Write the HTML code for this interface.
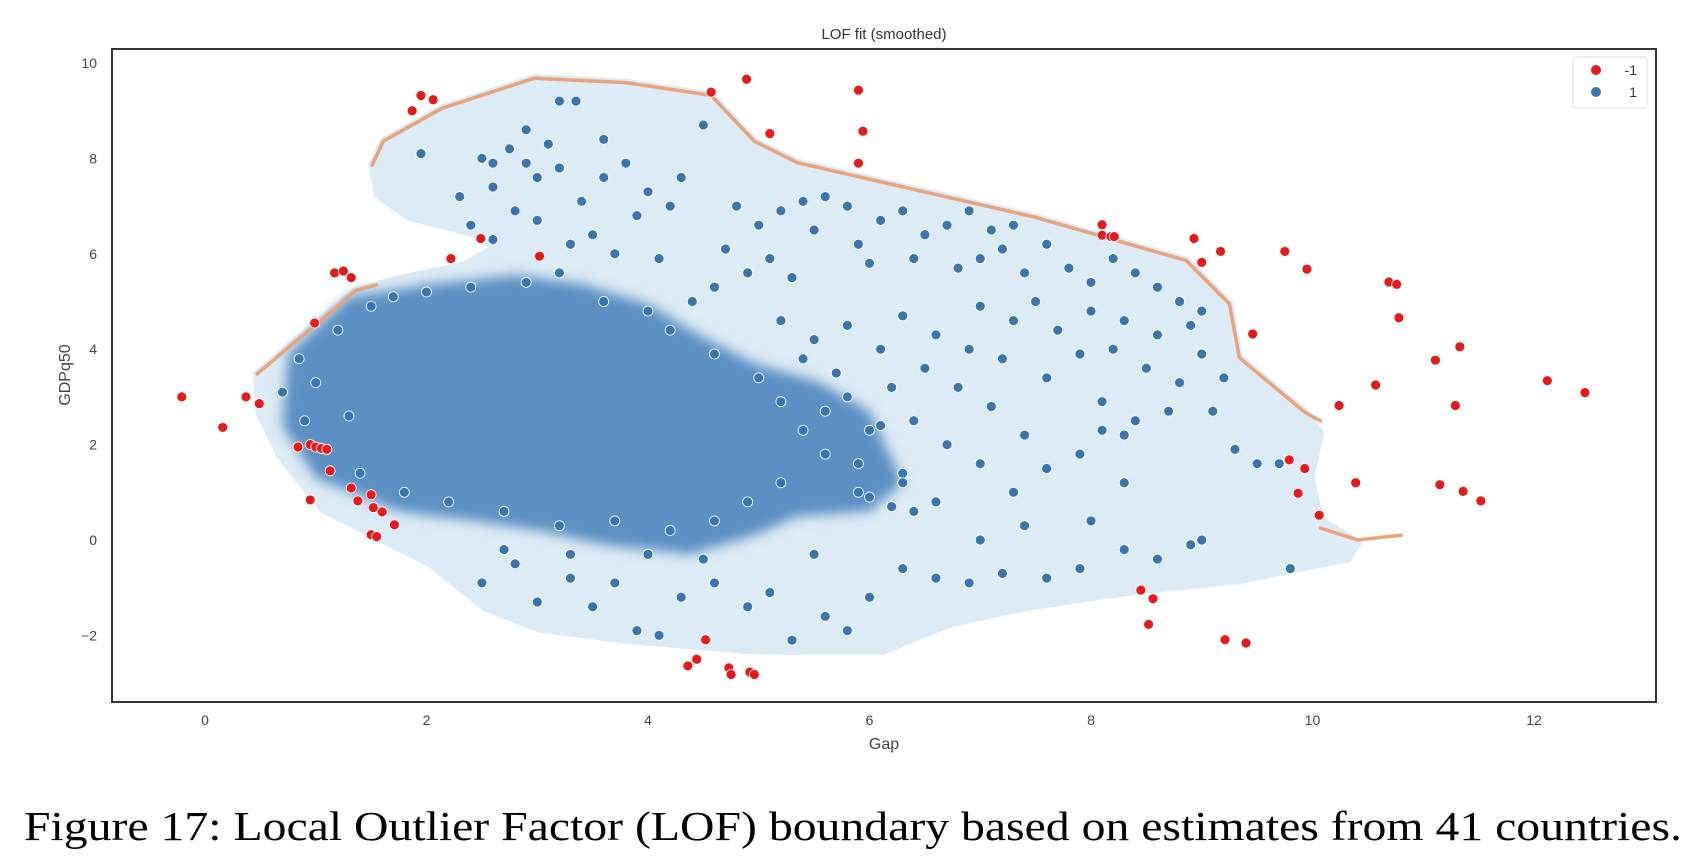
<!DOCTYPE html>
<html><head><meta charset="utf-8"><style>
html,body{margin:0;padding:0;background:#fff}
svg{display:block}
</style></head><body>
<svg id="fig" width="1690" height="856" viewBox="0 0 1690 856" xmlns="http://www.w3.org/2000/svg" font-family="'Liberation Sans', sans-serif">
<defs><filter id="soft" x="-10%" y="-10%" width="120%" height="120%"><feGaussianBlur stdDeviation="6"/></filter></defs>
<rect x="0" y="0" width="1690" height="856" fill="#fff"/>
<g id="region"></g>
<g id="core"></g>
<g id="boundary"></g>
<g id="blue"></g>
<g id="red"></g>
<rect x="112" y="49" width="1544" height="653" fill="none" stroke="#333" stroke-width="2"/>
<g id="xticks" font-size="14" fill="#444" text-anchor="middle"></g>
<g id="yticks" font-size="14" fill="#444" text-anchor="end"></g>
<text x="884" y="39" font-size="15" fill="#333" text-anchor="middle">LOF fit (smoothed)</text>
<text x="884" y="749" font-size="16" fill="#444" text-anchor="middle">Gap</text>
<text x="0" y="0" font-size="16" fill="#444" text-anchor="middle" transform="translate(70,375) rotate(-90)">GDPq50</text>
<g>
<rect x="1573" y="57" width="74" height="51" fill="#fff" stroke="#ddd" rx="3"/>
<circle cx="1596" cy="70" r="5" fill="#e41a1c"/>
<text x="1637" y="75" font-size="14" fill="#333" text-anchor="end">-1</text>
<circle cx="1596" cy="92" r="5" fill="#3b75af"/>
<text x="1637" y="97" font-size="14" fill="#333" text-anchor="end">1</text>
</g>
<text x="24" y="840" font-family="'Liberation Serif', serif" font-size="41" fill="#000" textLength="1658" lengthAdjust="spacingAndGlyphs">Figure 17: Local Outlier Factor (LOF) boundary based on estimates from 41 countries.</text>
</svg>
<script>
const xTicks=[0,2,4,6,8,10,12];
const yTicks=[-2,0,2,4,6,8,10];
const outlierX=[-0.21,0.16,0.37,0.49,0.84,0.95,1.0,1.05,1.1,0.95,0.99,1.13,1.17,1.25,1.32,1.32,1.38,1.5,1.52,1.6,1.5,1.55,1.71,1.87,1.95,2.06,2.22,2.49,3.02,4.57,4.89,5.1,5.9,5.94,5.9,8.1,8.1,8.18,8.21,8.93,9.0,9.17,9.46,9.75,9.95,10.24,10.69,10.76,10.78,11.11,11.33,11.29,10.57,12.12,12.46,11.15,11.36,11.52,9.79,9.93,9.87,10.39,10.06,8.45,8.56,8.52,9.21,9.4,4.52,4.44,4.36,4.73,4.75,4.92,4.96];
const outlierY=[3.0,2.36,3.0,2.86,1.95,2.0,1.95,1.92,1.9,0.84,4.55,1.45,5.6,5.64,5.5,1.09,0.82,0.95,0.68,0.59,0.11,0.07,0.32,9.0,9.32,9.23,5.9,6.32,5.95,9.39,9.66,8.52,7.9,8.57,9.43,6.61,6.39,6.36,6.36,6.32,5.82,6.05,4.32,6.05,5.68,2.82,5.41,5.36,4.66,3.77,4.05,2.82,3.25,3.34,3.09,1.16,1.02,0.82,1.68,1.5,0.98,1.2,0.52,-1.05,-1.23,-1.77,-2.09,-2.16,-2.09,-2.5,-2.64,-2.68,-2.82,-2.77,-2.82];
const inlierX=[1.95,3.2,3.35,2.9,3.1,2.5,2.6,2.75,2.9,3.0,3.2,2.3,2.6,2.8,3.0,2.4,3.4,3.6,3.6,3.8,4.0,3.9,4.2,4.3,4.5,3.5,3.7,4.1,2.6,3.3,
4.8,5.0,5.2,5.4,5.6,5.8,5.5,5.9,6.1,6.3,6.5,6.7,6.9,7.1,7.3,6.0,6.4,6.8,7.0,7.2,7.4,4.7,5.1,5.3,4.6,4.9,
7.6,7.8,8.0,8.2,8.4,8.6,8.8,8.0,8.3,8.6,8.9,9.0,8.2,8.5,8.8,7.7,7.9,7.5,7.3,7.0,7.2,7.6,8.1,8.4,8.7,8.1,8.3,9.2,9.1,9.0,
5.2,5.5,5.8,6.1,6.3,6.6,6.9,6.5,6.2,6.8,7.1,6.4,6.0,6.7,7.0,6.3,5.9,6.6,7.3,7.6,7.4,7.9,8.3,5.8,5.6,5.7,5.4,
2.5,2.8,3.0,3.3,3.5,3.7,3.9,4.1,4.3,4.6,4.9,5.1,5.3,5.6,5.8,6.0,6.3,6.6,6.9,7.2,7.6,7.9,8.3,8.6,8.9,9.0,9.8,7.0,7.4,8.0,4.0,4.5,5.5,3.3,2.7,9.3,9.5,9.7,
0.7,0.85,1.0,1.2,1.3,1.5,1.7,2.0,2.4,2.9,3.2,3.6,4.0,4.4,4.2,4.6,5.0,5.2,5.4,5.6,5.2,4.9,4.6,4.2,3.7,3.2,2.7,2.2,1.8,1.4,1.1,0.9,
6.1,6.3,6.0,6.2,5.9,6.4];
const inlierY=[8.1,9.2,9.2,8.6,8.3,8.0,7.9,8.2,7.9,7.6,7.8,7.2,7.4,6.9,6.7,6.6,7.1,7.6,8.4,7.9,7.3,6.8,7.0,7.6,8.7,6.4,6.0,5.9,6.3,6.2,
7.0,6.6,6.9,7.1,7.2,7.0,6.5,6.2,6.7,6.9,6.4,6.6,6.9,6.5,6.6,5.8,5.9,5.7,5.9,6.1,5.6,6.1,5.9,5.5,5.3,5.6,
6.2,5.7,5.4,5.9,5.6,5.3,5.0,4.8,4.6,4.3,4.5,3.9,4.0,3.6,3.3,4.4,3.9,5.0,4.6,4.9,3.8,3.4,2.9,2.5,2.7,2.3,2.2,3.4,2.7,4.8,
4.6,4.2,4.5,4.0,4.7,4.3,4.0,3.6,3.2,3.2,2.8,2.5,2.3,2.0,1.6,1.4,1.0,0.8,1.0,1.5,2.2,1.8,1.2,3.0,2.7,3.5,3.8,
-0.9,-0.5,-1.3,-0.8,-1.4,-0.9,-1.9,-2.0,-1.2,-0.9,-1.4,-1.1,-2.1,-1.6,-1.9,-1.2,-0.6,-0.8,-0.9,-0.7,-0.8,-0.6,-0.2,-0.4,-0.1,0.0,-0.6,0.0,0.3,0.4,-0.3,-0.4,-0.3,-0.3,-0.2,1.9,1.6,1.6,
3.1,3.8,3.3,4.4,2.6,4.9,5.1,5.2,5.3,5.4,5.6,5.0,4.8,5.0,4.4,3.9,3.4,2.9,2.3,1.8,1.2,0.8,0.4,0.2,0.4,0.3,0.6,0.8,1.0,1.4,1.9,2.5,
2.4,1.2,0.9,0.7,1.6,0.6];
const regionX=[1.51,1.61,2.14,2.97,3.8,4.57,4.96,5.35,6.42,7.49,8.86,9.25,9.34,9.93,10.07,9.98,10.07,10.41,10.32,9.83,9.34,8.37,7.4,6.72,6.13,4.96,3.8,3.02,2.53,2.04,1.56,1.07,0.68,0.49,0.47,0.78,1.17,1.36,1.85,2.34,2.63,2.43,1.85,1.56];
const regionY=[7.86,8.36,9.05,9.68,9.59,9.32,8.36,7.91,7.34,6.77,5.86,4.95,3.82,2.68,2.23,1.32,0.41,-0.05,-0.39,-0.61,-0.84,-1.07,-1.41,-1.75,-2.32,-2.32,-2.09,-1.86,-1.41,-0.5,0.07,0.64,1.77,2.68,3.48,4.09,4.84,5.23,5.52,5.75,6.14,6.43,6.77,7.23];
const coreX=[0.75,1.3,2.04,2.82,3.41,3.99,4.48,4.96,5.55,6.0,6.3,6.0,5.35,4.96,4.38,3.6,3.02,2.43,1.75,1.0,0.7];
const coreY=[3.9,5.1,5.36,5.55,5.36,4.95,4.27,3.7,3.3,2.7,1.2,0.6,0.5,0.1,-0.3,-0.1,0.2,0.4,0.6,1.3,2.4];
const boundLeftX=[0.47,0.78,1.17,1.36,1.55];
const boundLeftY=[3.48,4.09,4.84,5.23,5.35];
const boundTopX=[1.51,1.61,2.14,2.97,3.8,4.57,4.96,5.35,6.42,7.49,8.86,9.25,9.34,9.93,10.07];
const boundTopY=[7.86,8.36,9.05,9.68,9.59,9.32,8.36,7.91,7.34,6.77,5.86,4.95,3.82,2.68,2.5];
const boundBotX=[10.07,10.41,10.8];
const boundBotY=[0.25,0.0,0.1];

const NS='http://www.w3.org/2000/svg';
const sx=v=>205+110.75*v;
const sy=v=>540-47.7*v;
function mk(tag,parent){const e=document.createElementNS(NS,tag);parent.appendChild(e);return e;}
function pts(xs,ys){return xs.map((x,i)=>sx(x).toFixed(1)+','+sy(ys[i]).toFixed(1)).join(' ');}

const reg=mk('polygon',document.getElementById('region'));


reg.setAttribute('points',pts(regionX,regionY));
reg.setAttribute('fill','#dcebf5');
reg.setAttribute('stroke','#dcebf5');
reg.setAttribute('stroke-width','8');
reg.setAttribute('stroke-linejoin','round');

const core=mk('polygon',document.getElementById('core'));


core.setAttribute('points',pts(coreX,coreY));
core.setAttribute('fill','#5b8fc3');
core.setAttribute('filter','url(#soft)');

[[boundLeftX,boundLeftY,'boundary-left'],[boundTopX,boundTopY,'boundary-top'],[boundBotX,boundBotY,'boundary-bottom']].forEach(b=>{
  const l=mk('polyline',document.getElementById('boundary'));
  
  
  l.setAttribute('points',pts(b[0],b[1]));
  l.setAttribute('fill','none');
  l.setAttribute('stroke','#e8a27c');
  l.setAttribute('stroke-width','3.5');
  l.setAttribute('stroke-linecap','round');
  l.setAttribute('stroke-linejoin','round');
});

const bg=document.getElementById('blue');
inlierX.forEach((x,i)=>{
  const c=mk('circle',bg);
  
  
  c.setAttribute('cx',sx(x));c.setAttribute('cy',sy(inlierY[i]));c.setAttribute('r','5');
  c.setAttribute('fill','#3b75af');c.setAttribute('stroke','#fff');c.setAttribute('stroke-width','0.8');
});
const rg=document.getElementById('red');
outlierX.forEach((x,i)=>{
  const c=mk('circle',rg);
  
  
  c.setAttribute('cx',sx(x));c.setAttribute('cy',sy(outlierY[i]));c.setAttribute('r','5');
  c.setAttribute('fill','#e41a1c');c.setAttribute('stroke','#fff');c.setAttribute('stroke-width','0.8');
});

const xg=document.getElementById('xticks');
xTicks.forEach(v=>{
  const t=mk('text',xg);
  
  
  t.setAttribute('x',sx(v));t.setAttribute('y','725');
  t.textContent=String(v);
});
const yg=document.getElementById('yticks');
yTicks.forEach(v=>{
  const t=mk('text',yg);
  
  
  t.setAttribute('x','97');t.setAttribute('y',sy(v)+5);
  t.textContent=v<0?'\u2212'+Math.abs(v):String(v);
});
</script>
</body></html>
